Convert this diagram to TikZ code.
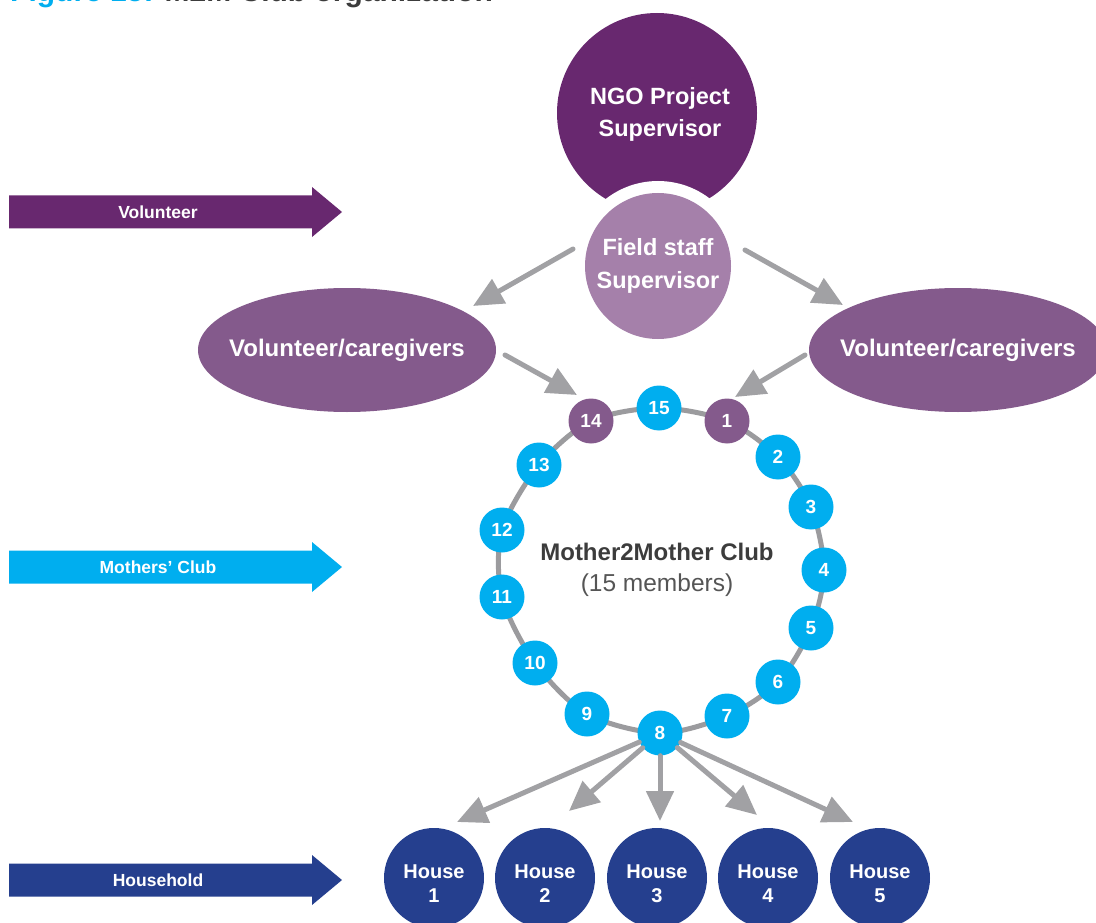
\documentclass[tikz,border=0pt]{standalone}
\usepackage{fontspec}
\setmainfont{Liberation Sans}
\usetikzlibrary{arrows.meta,shapes.geometric}
\definecolor{dpurple}{HTML}{68286F}
\definecolor{lpurple}{HTML}{A580AA}
\definecolor{mpurple}{HTML}{845A8C}
\definecolor{cyanb}{HTML}{00AEEF}
\definecolor{navy}{HTML}{253F8E}
\definecolor{arrgrey}{HTML}{A1A1A4}
\definecolor{ringgrey}{HTML}{9B9B9E}
\definecolor{txtgrey}{HTML}{3C3C3C}
\definecolor{txtgrey2}{HTML}{555555}
\begin{document}
\begin{tikzpicture}[x=1pt,y=-1pt,
  member/.style={circle, fill=cyanb, minimum size=45pt, inner sep=0pt, text=white,
    font=\fontsize{19}{22}\selectfont\bfseries},
  vmember/.style={member, fill=mpurple},
  house/.style={circle, fill=navy, minimum size=100pt, inner sep=0pt},
  houselbl/.style={text=white, align=center, yshift=-6pt,
    font=\fontsize{20}{24}\selectfont\bfseries},
  flow/.style={draw=arrgrey, line width=5pt, line cap=round, -{Triangle[length=30pt,width=27pt]}},
  ringline/.style={draw=ringgrey, line width=5pt},
  bandlabel/.style={text=white, font=\fontsize{17.5}{20}\selectfont\bfseries},
  bigtext/.style={text=white, align=center, font=\fontsize{23.5}{32}\selectfont\bfseries},
  volell/.style={ellipse, fill=mpurple, minimum width=298pt, minimum height=124pt, inner sep=0pt},
  volltext/.style={text=white, font=\fontsize{24}{28}\selectfont\bfseries}
]
\useasboundingbox (0,0) rectangle (1096,923);

% title (cut off at the top)
\node[anchor=base west, inner sep=0pt, font=\fontsize{30}{34}\selectfont\bfseries] (title) at (10,2)
  {\textcolor{cyanb}{Figure 15:} \textcolor{txtgrey}{M2M Club organization}};

% left band arrows
\foreach \yy/\cc/\nm in {212/dpurple/bandA, 567/cyanb/bandB, 880/navy/bandC}{
  \fill[\cc] (9,\yy-16.5) -- (312,\yy-16.5) -- (312,\yy-25) -- (342,\yy)
     -- (312,\yy+25) -- (312,\yy+16.5) -- (9,\yy+16.5) -- cycle;
}
\node[bandlabel] (lblA) at (158,212) {Volunteer};
\node[bandlabel] (lblB) at (158,567) {Mothers’ Club};
\node[bandlabel] (lblC) at (158,880) {Household};

% supervisors
\node[circle, fill=dpurple, minimum size=200pt, inner sep=0pt] (ngo) at (657,113) {};
\node[bigtext] (ngotext) at (660,114) {NGO Project\\Supervisor};
\node[circle, fill=white, minimum size=170pt, inner sep=0pt] (fsgap) at (658,266) {};
\node[circle, fill=lpurple, minimum size=146pt, inner sep=0pt, bigtext] (fs) at (658,266)
  {Field staff\\[1pt]Supervisor};

% volunteers
\node[volell, label={[volltext]center:Volunteer/caregivers}] (vl) at (347,350) {};
\node[volell, label={[volltext]center:Volunteer/caregivers}] (vr) at (958,350) {};

% connector end points
\coordinate (fsL) at (573,249);
\coordinate (fsR) at (745,250);
\coordinate (vlT) at (473,306);
\coordinate (vrT) at (843,305);
\coordinate (vlS) at (505,355);
\coordinate (vrS) at (805,355);
\coordinate (m14T) at (577,395);
\coordinate (m1T) at (735,397);

\draw[flow] (fsL) -- (vlT);
\draw[flow] (fsR) -- (vrT);
\draw[flow] (vlS) -- (m14T);
\draw[flow] (vrS) -- (m1T);

% club ring
\coordinate (p15) at (659,408);
\coordinate (p1) at (727,421);
\coordinate (p2) at (778,457);
\coordinate (p3) at (811,507);
\coordinate (p4) at (824,570);
\coordinate (p5) at (811,628);
\coordinate (p6) at (778,682);
\coordinate (p7) at (727,716);
\coordinate (p8) at (660,733);
\coordinate (p9) at (587,714);
\coordinate (p10) at (535,663);
\coordinate (p11) at (502,597);
\coordinate (p12) at (502,530);
\coordinate (p13) at (539,465);
\coordinate (p14) at (591,421);
\draw[ringline] plot[smooth cycle] coordinates {(p1) (p2) (p3) (p4) (p5) (p6) (p7) (p8) (p9) (p10) (p11) (p12) (p13) (p14) (p15)};

\foreach \i in {2,...,13,15}{
  \node[member] (m\i) at (p\i) {\i};
}
\node[vmember] (m1) at (p1) {1};
\node[vmember] (m14) at (p14) {14};

\node[align=center, text=txtgrey, font=\fontsize{24}{31}\selectfont] (club) at (657,570)
  {\bfseries Mother2Mother Club\\
   \fontsize{24.5}{31}\selectfont\color{txtgrey2}(15 members)};

% households
\foreach \i/\xx in {1/434, 2/545, 3/657, 4/768, 5/880}{
  \node[house, label={[houselbl]center:House\\\i}] (h\i) at (\xx,878) {};
}
\coordinate (t1) at (457,822);
\coordinate (t2) at (569,811);
\coordinate (t3) at (660,821);
\coordinate (t4) at (757,815);
\coordinate (t5) at (853,822);
\foreach \i in {1,...,5}{
  \draw[flow] (m8) -- (t\i);
}
\end{tikzpicture}
\end{document}
